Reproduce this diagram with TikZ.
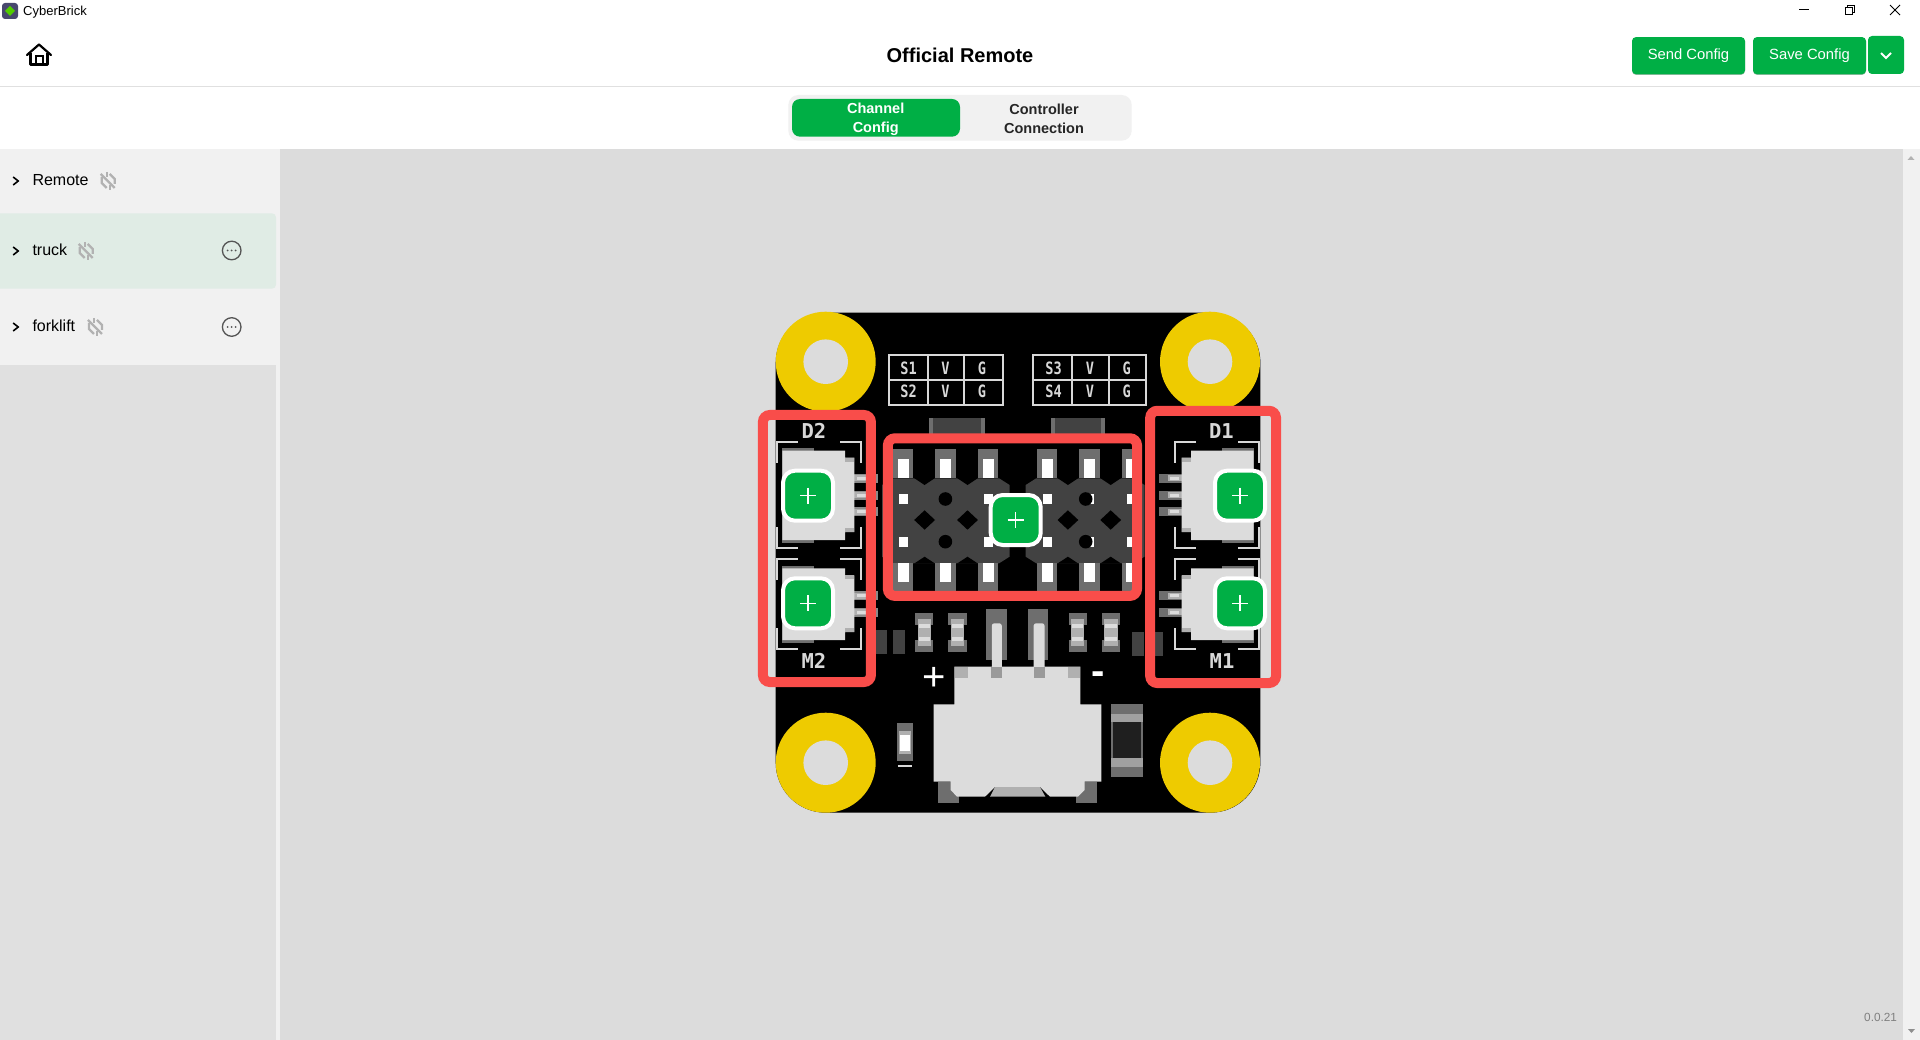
\documentclass[tikz,border=0pt]{standalone}
\usepackage{fontspec}
\setmainfont{Liberation Sans}
\newfontfamily\boardfont{DejaVu Sans Mono}
\definecolor{color_app_green}{HTML}{00AF45}
\definecolor{color_app_rule}{HTML}{E0E0E0}
\definecolor{color_app_side}{HTML}{F1F1F1}
\definecolor{color_app_sel}{HTML}{E0ECE5}
\definecolor{color_app_main}{HTML}{DCDCDC}
\definecolor{color_app_lower}{HTML}{E0E0E0}
\definecolor{color_app_icon}{HTML}{B2B2B2}
\definecolor{color_app_menu}{HTML}{555555}
\definecolor{color_red_box}{HTML}{F94D4A}
\definecolor{color_pcb_bg}{HTML}{000000}
\definecolor{color_pcb_gold}{HTML}{EECB00}
\definecolor{color_pcb_part}{HTML}{DCDCDC}
\definecolor{color_pcb_silk}{HTML}{D8D8D8}
\definecolor{color_pcb_pad}{HTML}{6E6E6E}
\definecolor{color_pcb_mid}{HTML}{B0B0B0}
\definecolor{color_pcb_dark}{HTML}{424242}
\tikzset{
    ui_text/.style={inner sep=0pt,font=\fontsize{16}{19}\selectfont},
    silk_small/.style={inner sep=0pt,text=color_pcb_silk,xscale=0.8,font=\boardfont\bfseries\fontsize{17}{20}\selectfont},
    silk_big/.style={inner sep=0pt,text=color_pcb_silk,font=\boardfont\bfseries\fontsize{20.5}{24}\selectfont},
    jst_line/.style={color_pcb_silk,line width=2pt},
    green_btn/.style={fill=color_app_green,rounded corners=4pt,inner sep=0pt,text=white,font=\fontsize{14.8}{18}\selectfont},
    add_btn/.style={fill=color_app_green,draw=white,line width=4pt,rounded corners=12pt,minimum size=50pt,inner sep=0pt},
    red_box/.style={draw=color_red_box,line width=10pt,rounded corners=7pt},
    link_icon/.style={color_app_icon,line width=2.4pt},
}
\def\addbtn(#1,#2)#3{
    \node[add_btn] (#3) at (#1,#2) {};
    \draw[white,line width=1.5pt] (#1-8,#2) -- (#1+8,#2) (#1,#2-8) -- (#1,#2+8);
}
\def\linkicon(#1,#2){
    \draw[link_icon] (#1-7,#2-7) -- (#1+7,#2+7);
    \draw[link_icon] (#1-1,#2-9) -- (#1-1,#2-4) (#1+2,#2+4) -- (#1+2,#2+9);
    \draw[link_icon] (#1-6,#2-4) -- (#1-6,#2+2) -- (#1-1,#2+7);
    \draw[link_icon] (#1+7,#2+3) -- (#1+7,#2-2) -- (#1+2,#2-7);
}
\def\menuicon(#1,#2){
    \draw[color_app_menu,line width=1.3pt] (#1,#2) circle (9.3pt);
    \foreach \d in {-4,0,4}
        \fill[color_app_menu] (#1+\d,#2) circle (1pt);
}
\def\chevron(#1,#2){
    \draw[black,line width=1.6pt] (#1-2.5,#2-4) -- (#1+2.5,#2) -- (#1-2.5,#2+4);
}
\def\jstconn[#1](#2,#3,#4,#5)#6{
    \draw[jst_line] (777.3,#2+21) -- (777.3,#2) -- (798,#2);
    \draw[jst_line] (840,#2) -- (860.7,#2) -- (860.7,#2+21);
    \draw[jst_line] (777.3,#3-21) -- (777.3,#3) -- (798,#3);
    \draw[jst_line] (840,#3) -- (860.7,#3) -- (860.7,#3-21);
    \fill[color_pcb_pad] (782.3,#4-2.5) rectangle (814,#5+2.5);
    \foreach \p in {#6} {
        \fill[#1] (845,\p-4.5) rectangle (877.5,\p+4.5);
        \fill[color_pcb_mid] (854,\p-3) rectangle (868,\p+3);
        \fill[color_pcb_part] (857,\p-1.5) rectangle (866,\p+1.5);
    }
    \fill[color_pcb_part] (782.3,#4) -- (845,#4) -- (845,#4+7) -- (854.3,#4+7)
        -- (854.3,#5-8) -- (845,#5-8) -- (845,#5) -- (782.3,#5) -- cycle;
    \fill[color_pcb_mid] (845,#4+7) rectangle (854.3,#4+11);
    \fill[color_pcb_mid] (845,#5-12) rectangle (854.3,#5-8);
}
\def\smdpart(#1,#2){
    \fill[color_pcb_pad] (#1,612.7) rectangle (#2,652.3);
    \fill[black] (#1,625) rectangle (#1+2.5,640);
    \fill[black] (#2-2.5,625) rectangle (#2,640);
    \fill[color_pcb_mid] (#1+2.5,619) rectangle (#2-2.5,646);
    \fill[color_pcb_part] (#1+3.5,624) rectangle (#2-3.5,628);
    \fill[color_pcb_part] (#1+3.5,637) rectangle (#2-3.5,641);
}
\begin{document}
\begin{tikzpicture}[x=1pt,y=-1pt]
    \useasboundingbox (0,0) rectangle (1920,1040);
    \fill[white] (0,0) rectangle (1920,1040);
    % window title bar
    \fill[color_app_menu!85!blue, rounded corners=3pt] (2,3) rectangle (18,19);
    \fill[green!60!yellow!80!black] (10,6) -- (15,11) -- (10,16) -- (5,11) -- cycle;
    \node[ui_text,font=\fontsize{13}{15}\selectfont,anchor=mid west] (win_title) at (23,12.5) {CyberBrick};
    \draw[black,line width=1pt] (1799,10) -- (1809,10);
    \draw[black,line width=1pt] (1845,8) rectangle (1852,15) (1847.5,8) -- (1847.5,5.5) -- (1854.5,5.5) -- (1854.5,12.5) -- (1852,12.5);
    \draw[black,line width=1pt] (1890,5) -- (1900,15) (1900,5) -- (1890,15);
    % header
    \draw[color_app_rule,line width=1pt] (0,86.5) -- (1920,86.5);
    \draw[black,line width=2.2pt,line join=round,line cap=round] (27,55) -- (39,44.5) -- (51,55);
    \draw[black,line width=2.2pt,line join=round] (30.5,53) -- (30.5,64.5) -- (47.5,64.5) -- (47.5,53);
    \draw[black,line width=2pt] (35.5,64.5) -- (35.5,56.5) -- (42.5,56.5) -- (42.5,64.5);
    \node[ui_text,font=\bfseries\fontsize{20}{24}\selectfont] (page_title) at (960,55) {Official Remote};
    \fill[black,opacity=0.25, rounded corners=4pt] (1632,37.5) rectangle (1745,75);
    \fill[black,opacity=0.25, rounded corners=4pt] (1753,37.5) rectangle (1866,75);
    \node[green_btn,minimum width=113pt,minimum height=37.3pt] (btn_send) at (1688.5,55.7) {Send Config};
    \node[green_btn,minimum width=113pt,minimum height=37.3pt] (btn_save) at (1809.5,55.7) {Save Config};
    \node[green_btn,minimum width=36pt,minimum height=38pt] (btn_more) at (1886,55) {};
    \draw[white,line width=2pt] (1881,53) -- (1886,58) -- (1891,53);
    % tabs
    \fill[color_app_side, rounded corners=10pt] (788.3,95) rectangle (1131.7,140.7);
    \fill[color_app_green, rounded corners=8pt] (792,99) rectangle (960,136.7);
    \node[ui_text,align=center,text=white,font=\bfseries\fontsize{14.5}{19}\selectfont] (tab_channel) at (875.7,119.5) {Channel\\Config};
    \node[ui_text,align=center,text=black!85,font=\bfseries\fontsize{14.5}{19}\selectfont] (tab_controller) at (1044,118.5) {Controller\\Connection};
    % main area and side list
    \fill[color_app_main] (280,149) rectangle (1920,1040);
    \fill[color_app_side] (0,149) rectangle (280,1040);
    \fill[color_app_lower] (0,365) rectangle (276,1040);
    \fill[color_app_sel, rounded corners=4pt] (-6,213.3) rectangle (276,288.7);
    \fill[color_app_side] (1903,149) rectangle (1920,1040);
    \fill[color_app_icon] (1907.5,160) -- (1911,156) -- (1914.5,160) -- cycle;
    \fill[color_app_icon!80!black] (1908,1029) -- (1915,1029) -- (1911.5,1033) -- cycle;
    \chevron(15.7,181)
    \chevron(15.7,251)
    \chevron(15.7,327)
    \node[ui_text,anchor=mid west] (item_remote) at (32.3,183) {Remote};
    \node[ui_text,anchor=mid west] (item_truck) at (32.3,253) {truck};
    \node[ui_text,anchor=mid west] (item_forklift) at (32.3,329) {forklift};
    \linkicon(107.7,181)
    \linkicon(85.7,251)
    \linkicon(95,327)
    \menuicon(231.7,250.5)
    \menuicon(231.7,327)
    \node[ui_text,text=black!50,font=\fontsize{11.8}{14}\selectfont,anchor=mid west] (version) at (1864,1018.5) {0.0.21};
    % the board
    \fill[color_pcb_bg, rounded corners=50pt] (775.7,312.7) rectangle (1260.4,812.7);
    \foreach \x in {825.7,1210}
        \foreach \y in {361.7,762.7} {
            \fill[color_pcb_gold] (\x,\y) circle (50pt);
            \fill[color_app_main] (\x,\y) circle (22.3pt);
        }
    % header silk tables
    \draw[color_pcb_silk,line width=2pt] (889.3,355.3) rectangle (1002.5,405) (889.3,380) -- (1002.5,380)
        (928.2,355.3) -- (928.2,405) (964.3,355.3) -- (964.3,405);
    \draw[color_pcb_silk,line width=2pt] (1032.9,355.3) rectangle (1146,405) (1032.9,380) -- (1146,380)
        (1072.1,355.3) -- (1072.1,405) (1108.9,355.3) -- (1108.9,405);
    \node[silk_small] (s1) at (908.6,368.3) {S1};
    \node[silk_small] (v1) at (945.4,368.3) {V};
    \node[silk_small] (g1) at (982,368.3) {G};
    \node[silk_small] (s2) at (908.6,391.7) {S2};
    \node[silk_small] (v2) at (945.4,391.7) {V};
    \node[silk_small] (g2) at (982,391.7) {G};
    \node[silk_small] (s3) at (1053.6,368.3) {S3};
    \node[silk_small] (v3) at (1090,368.3) {V};
    \node[silk_small] (g3) at (1126.8,368.3) {G};
    \node[silk_small] (s4) at (1053.6,391.7) {S4};
    \node[silk_small] (v4) at (1090,391.7) {V};
    \node[silk_small] (g4) at (1126.8,391.7) {G};
    \node[silk_big] (lbl_d2) at (813.9,430.7) {D2};
    \node[silk_big] (lbl_d1) at (1221.4,430.7) {D1};
    \node[silk_big] (lbl_m2) at (813.9,661) {M2};
    \node[silk_big] (lbl_m1) at (1222,661) {M1};
    % small parts above the headers
    \foreach \a/\b in {929.3/984.6,1050.7/1105.4} {
        \fill[color_pcb_pad] (\a,418.3) rectangle (\b,436);
        \fill[color_pcb_dark] (\a+4,418.3) rectangle (\b-4,436);
    }
    % connectors
    \jstconn[color_pcb_pad!80!white](441.7,548.3,450.7,540){478.3,495,511.7}
    \jstconn[color_pcb_pad!80!white](559,649,568.3,640){595.7,612}
    \begin{scope}[xshift=2036pt,xscale=-1]
        \jstconn[color_pcb_pad](441.7,548.3,450.7,540){478.3,495,511.7}
        \jstconn[color_pcb_pad](559,649,568.3,640){595.7,612}
    \end{scope}
    % pin headers
    \foreach \a/\b in {882/1009.6,1025.7/1144.5}
        \fill[color_pcb_dark] (\a,485) -- (\a+10.5,478.3) -- (\b-10.5,478.3) -- (\b,485)
            -- (\b,556.7) -- (\b-10.5,563.3) -- (\a+10.5,563.3) -- (\a,556.7) -- cycle;
    \foreach \n in {924.6,967.5,1067.9,1110.7} {
        \fill[black] (\n,520) ++(-10.4,0) -- ++(10.4,-9.7) -- ++(10.4,9.7) -- ++(-10.4,9.7) -- cycle;
        \fill[black] (\n-10.5,478) -- (\n+10.5,478) -- (\n,485) -- cycle;
        \fill[black] (\n-10.5,563.6) -- (\n+10.5,563.6) -- (\n,556.7) -- cycle;
    }
    \foreach \c in {903.2,945.4,988.2,1047.1,1089.3,1131.8} {
        \fill[color_pcb_pad] (\c-10.2,449) rectangle (\c+10.2,478.3);
        \fill[white] (\c-5.4,458.7) rectangle (\c+5.4,478.3);
        \fill[color_pcb_pad] (\c-10.2,563.3) rectangle (\c+10.2,591);
        \fill[white] (\c-5.4,563.3) rectangle (\c+5.4,581.7);
        \fill[white] (\c-4.5,494.3) rectangle (\c+4.5,504.3);
        \fill[white] (\c-4.5,536.7) rectangle (\c+4.5,546.7);
    }
    \foreach \y in {499,541.7} {
        \fill[black] (945.4,\y) circle (6.8pt);
        \fill[black] (1085.7,\y) circle (6.8pt);
    }
    % parts under the headers
    \smdpart(915,933.2)
    \smdpart(948.2,966.8)
    \smdpart(1068.6,1086.8)
    \smdpart(1101.8,1120.4)
    \fill[color_pcb_dark] (875.7,630) rectangle (887.1,654.3);
    \fill[color_pcb_dark] (892.9,630) rectangle (905,654.3);
    \fill[color_pcb_dark] (1131.8,631.7) rectangle (1144.3,656);
    \fill[color_pcb_dark] (1150,631.7) rectangle (1162.5,656);
    \foreach \a/\b in {986.4/1006.8,1028.2/1048.2}
        \fill[color_pcb_pad] (\a,608.7) rectangle (\b,660);
    \foreach \a/\b in {991.8/1001.8,1033.6/1044.6}
        \fill[color_pcb_part, rounded corners=2.5pt] (\a,623.3) rectangle (\b,672);
    % power connector
    \fill[color_pcb_pad] (938.2,781.7) rectangle (958.6,803.3);
    \fill[color_pcb_pad] (1076.4,781.7) rectangle (1097,803.3);
    \fill[color_pcb_part] (954.3,666.7) -- (1080.4,666.7) -- (1080.4,704.3) -- (1101.4,704.3) -- (1101.4,781.7)
        -- (1084.6,781.7) -- (1084.6,790) -- (1078,796.7) -- (1050,796.7) -- (1040,787) -- (995,787) -- (985,796.7)
        -- (957,796.7) -- (950.7,790) -- (950.7,781.7) -- (933.6,781.7) -- (933.6,704.3) -- (954.3,704.3) -- cycle;
    \fill[color_pcb_mid] (995,787) -- (1040,787) -- (1045.4,796.7) -- (990,796.7) -- cycle;
    \fill[color_pcb_mid] (955.4,667.3) rectangle (967.9,678.3);
    \fill[color_pcb_mid] (1067.5,667.3) rectangle (1080.4,678.3);
    \fill[color_pcb_pad!70!white] (990.7,667.3) rectangle (1001.8,678);
    \fill[color_pcb_pad!70!white] (1033.6,667.3) rectangle (1044.6,678);
    \node[inner sep=0pt,text=white,font=\fontsize{40}{44}\selectfont] (lbl_plus) at (933.9,678.5) {+};
    \node[inner sep=0pt,text=white,font=\bfseries\fontsize{40}{44}\selectfont] (lbl_minus) at (1097.9,678.5) {-};
    % led and capacitor
    \fill[color_pcb_pad] (897.1,723.3) rectangle (912.5,760.7);
    \fill[color_pcb_mid] (898.5,731) rectangle (911,754);
    \fill[white] (900,735) rectangle (909.6,750.7);
    \draw[color_pcb_silk,line width=1.6pt] (897.8,765.7) -- (912.2,765.7);
    \fill[color_pcb_pad] (1111.4,704) rectangle (1142.9,776.7);
    \fill[color_pcb_mid!120!white] (1111.4,714) rectangle (1142.9,721.7);
    \fill[color_pcb_mid!120!white] (1111.4,758.3) rectangle (1142.9,766.7);
    \fill[black!88] (1113.2,721.7) rectangle (1140.7,758.3);
    % marked zones
    \draw[red_box] (762.9,415) rectangle (870.9,682);
    \draw[red_box] (887.9,438.3) rectangle (1137,595.9);
    \draw[red_box] (1150.2,410.8) rectangle (1276,683);
    % add buttons
    \addbtn(808,495.7){add_d2}
    \addbtn(1240,495.7){add_d1}
    \addbtn(808,603.3){add_m2}
    \addbtn(1240,603.3){add_m1}
    \addbtn(1015.7,520){add_servo}
\end{tikzpicture}
\end{document}
